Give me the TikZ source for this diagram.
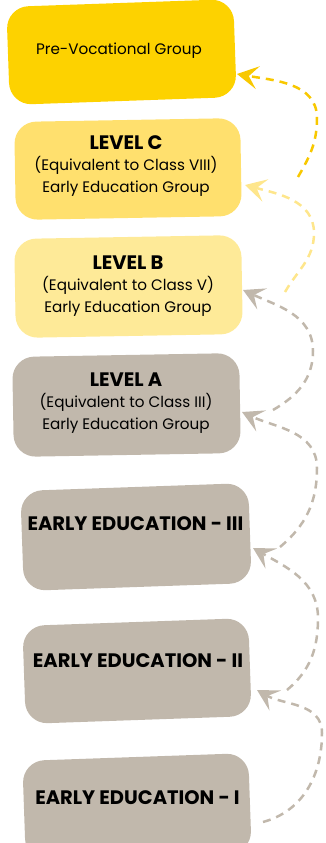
\documentclass[tikz,border=0pt]{standalone}
\usepackage{fontspec}
\setmainfont{Poppins}
\usetikzlibrary{arrows.meta}
\definecolor{goldc}{RGB}{253,210,0}
\definecolor{lvlc}{RGB}{255,224,110}
\definecolor{lvlb}{RGB}{254,234,152}
\definecolor{taupe}{RGB}{193,184,172}
\definecolor{arrgold}{RGB}{248,200,0}
\definecolor{arrpale}{RGB}{254,230,140}
\newcommand{\hdfont}{\fontsize{19.5}{21.5}\selectfont\bfseries}
\tikzset{
  blob/.style={rectangle, rounded corners=22pt, inner sep=0pt, draw=none},
  lbl/.style={align=center, text=black, font=\fontsize{15.2}{21.5}\selectfont},
  big/.style={align=center, text=black, font=\hdfont},
  arr/.style={line width=2.5pt, dash pattern=on 8pt off 6pt,
    -{Stealth[length=21pt, width=23pt, inset=9pt]}},
}
\begin{document}
\begin{tikzpicture}[x=1pt,y=1pt]
\useasboundingbox (0,0) rectangle (326,843);
\begin{scope}
\clip (0,0) rectangle (326,843);
% boxes
\node[blob, fill=goldc, minimum width=227pt, minimum height=98pt, rotate=2] (b1) at (121.5,791) {};
\node[blob, fill=lvlc, minimum width=226pt, minimum height=98pt, rotate=1] (b2) at (128,674) {};
\node[blob, fill=lvlb, minimum width=227pt, minimum height=99pt, rotate=1] (b3) at (128.5,556.5) {};
\node[blob, fill=taupe, minimum width=227pt, minimum height=100pt, rotate=1] (b4) at (126.5,438) {};
\node[blob, fill=taupe, minimum width=228pt, minimum height=100pt, rotate=2] (b5) at (136,306) {};
\node[blob, fill=taupe, minimum width=226pt, minimum height=98pt, rotate=2] (b6) at (137,172) {};
\node[blob, fill=taupe, minimum width=226pt, minimum height=100pt, rotate=2] (b7) at (137,36) {};
\end{scope}
% texts
\node[lbl] (t1) at (119,792) {Pre-Vocational Group};
\node[lbl] (t2) at (126,677) {{\hdfont LEVEL C}\\(Equivalent to Class VIII)\\Early Education Group};
\node[lbl] (t3) at (128,557) {{\hdfont LEVEL B}\\(Equivalent to Class V)\\Early Education Group};
\node[lbl] (t4) at (126,440) {{\hdfont LEVEL A}\\(Equivalent to Class III)\\Early Education Group};
\node[big] (t5) at (135.5,319) {EARLY EDUCATION - III};
\node[big] (t6) at (138,182) {EARLY EDUCATION - II};
\node[big] (t7) at (137.5,45) {EARLY EDUCATION - I};
% connector coordinates
\coordinate (a1s) at (298,666); \coordinate (a1m) at (317,725); \coordinate (a1t) at (237,769);
\coordinate (a2s) at (285,551); \coordinate (a2m) at (314,610); \coordinate (a2t) at (245,658);
\coordinate (a3s) at (273,433); \coordinate (a3m) at (313,492); \coordinate (a3t) at (243,553);
\coordinate (a4s) at (280,296); \coordinate (a4m) at (317,375); \coordinate (a4t) at (242,431);
\coordinate (a5s) at (287,153); \coordinate (a5m) at (318,225); \coordinate (a5t) at (253,295);
\coordinate (a6s) at (263,21);  \coordinate (a6m) at (322,110); \coordinate (a6t) at (257,153);
% connectors
\draw[arr, arrgold] (a1s) to[out=60,in=-90] (a1m) to[out=90,in=-10] (a1t);
\draw[arr, arrpale] (a2s) to[out=60,in=-90] (a2m) to[out=90,in=-15] (a2t);
\draw[arr, taupe] (a3s) to[out=30,in=-90] (a3m) to[out=90,in=-25] (a3t);
\draw[arr, taupe] (a4s) to[out=40,in=-90] (a4m) to[out=90,in=-25] (a4t);
\draw[arr, taupe] (a5s) to[out=40,in=-90] (a5m) to[out=90,in=-30] (a5t);
\draw[arr, taupe] (a6s) to[out=15,in=-90] (a6m) to[out=90,in=-30] (a6t);
\end{tikzpicture}
\end{document}
